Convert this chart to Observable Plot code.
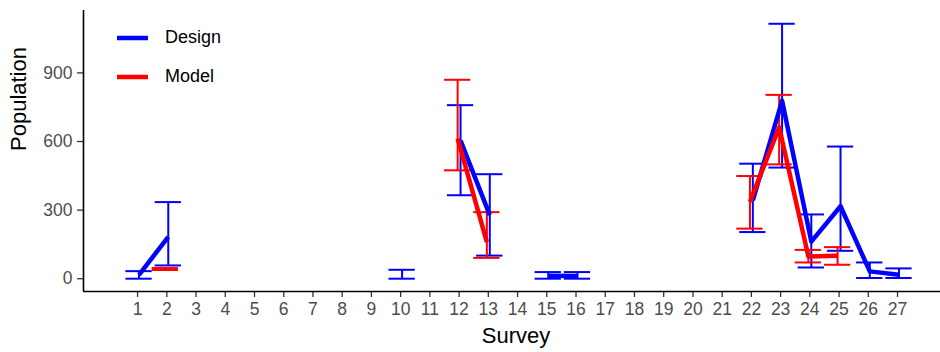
<!DOCTYPE html>
<html>
<head>
<meta charset="utf-8">
<script src="https://cdn.jsdelivr.net/npm/d3@7"></script>
<script src="https://cdn.jsdelivr.net/npm/@observablehq/plot@0.6"></script>
<style>
  body { margin: 0; background: #fff; }
  #wrap { position: relative; width: 940px; height: 352px; font-family: "Liberation Sans", Arial, sans-serif; }
  #legend { position: absolute; left: 117px; top: 18px; font-size: 18px; color: #000; }
  #legend .item { display: flex; align-items: center; height: 39px; }
  #legend svg { margin-right: 17px; }
</style>
</head>
<body>
<div id="wrap">
  <div id="chart"></div>
  <div id="legend"></div>
</div>
<script>
// ---- data ----
const surveys = [1,2,3,4,5,6,7,8,9,10,11,12,13,14,15,16,17,18,19,20,21,22,23,24,25,26,27];
const designEst = [17,183,null,null,null,null,null,null,null,20,null,604,278,null,13,12,null,null,null,null,null,343,778,162,317,32,17];
const designLo  = [0,58,null,null,null,null,null,null,null,0,null,365,101,null,0,0,null,null,null,null,null,204,486,49,122,3,3];
const designHi  = [33,335,null,null,null,null,null,null,null,39,null,759,457,null,29,29,null,null,null,null,null,503,1115,281,578,71,45];
const modelEst  = [null,43,null,null,null,null,null,null,null,null,null,613,160,null,null,null,null,null,null,null,null,336,662,97,100,null,null];
const modelLo   = [null,38,null,null,null,null,null,null,null,null,null,474,91,null,null,null,null,null,null,null,null,219,500,71,61,null,null];
const modelHi   = [null,47,null,null,null,null,null,null,null,null,null,870,291,null,null,null,null,null,null,null,null,449,804,126,138,null,null];
const seriesNames = ["Design", "Model"];
const seriesColors = ["#0000FF", "#FF0000"];
const yTicks = [0, 300, 600, 900];
const xDomain = [-0.85, 28.47];
const yDomain = [-56, 1173];

// ---- tables ----
const mk = (est, lo, hi, off) => surveys.map((s, i) => ({s, x: s + off, est: est[i], lo: lo[i], hi: hi[i]}));
const design = mk(designEst, designLo, designHi, 0.05);
const model = mk(modelEst, modelLo, modelHi, -0.05);
const capHalf = 0.45;

function errorMarks(rows, color) {
  const pts = rows.filter(d => d.est != null);
  return [
    Plot.ruleX(pts, {x: "x", y1: "lo", y2: "hi", stroke: color, strokeWidth: 2}),
    Plot.ruleY(pts, {x1: d => d.x - capHalf, x2: d => d.x + capHalf, y: "lo", stroke: color, strokeWidth: 2}),
    Plot.ruleY(pts, {x1: d => d.x - capHalf, x2: d => d.x + capHalf, y: "hi", stroke: color, strokeWidth: 2})
  ];
}

const font = '"Liberation Sans", Arial, sans-serif';

const chart = Plot.plot({
  width: 940,
  height: 352,
  marginLeft: 83,
  marginRight: 0,
  marginTop: 10,
  marginBottom: 61,
  style: {fontFamily: font, background: "#fff", overflow: "visible"},
  x: {domain: xDomain},
  y: {domain: yDomain},
  marks: [
    Plot.axisX(surveys, {tickSize: 6, tickPadding: 5, fontSize: 17.5, fill: "#4D4D4D", stroke: "#333", strokeWidth: 1.3, label: null}),
    Plot.axisY(yTicks, {tickSize: 6, tickPadding: 5, fontSize: 17.5, fill: "#4D4D4D", stroke: "#333", strokeWidth: 1.3, label: null}),
    Plot.ruleX([xDomain[0]], {stroke: "#000", strokeWidth: 1.6}),
    Plot.ruleY([yDomain[0]], {stroke: "#000", strokeWidth: 1.6}),
    ...errorMarks(design, seriesColors[0]),
    ...errorMarks(model, seriesColors[1]),
    Plot.line(design, {x: "x", y: "est", stroke: seriesColors[0], strokeWidth: 4.5, strokeLinecap: "butt", strokeLinejoin: "round"}),
    Plot.line(model, {x: "x", y: "est", stroke: seriesColors[1], strokeWidth: 4.5, strokeLinecap: "butt", strokeLinejoin: "round"}),
    Plot.text(["Survey"], {text: d => d, frameAnchor: "bottom", dx: 4, dy: 51, fontSize: 22, fill: "#000", lineAnchor: "bottom"}),
    Plot.text(["Population"], {text: d => d, frameAnchor: "left", dx: -58, rotate: -90, fontSize: 22, fill: "#000", lineAnchor: "bottom"})
  ]
});
document.getElementById("chart").appendChild(chart);

// ---- legend ----
const legend = d3.select("#legend");
seriesNames.forEach((name, i) => {
  const item = legend.append("div").attr("class", "item");
  const sw = item.append("svg").attr("width", 31).attr("height", 8);
  sw.append("line").attr("x1", 0).attr("x2", 31).attr("y1", 4).attr("y2", 4)
    .attr("stroke", seriesColors[i]).attr("stroke-width", 4.5);
  item.append("span").text(name);
});
</script>
</body>
</html>
